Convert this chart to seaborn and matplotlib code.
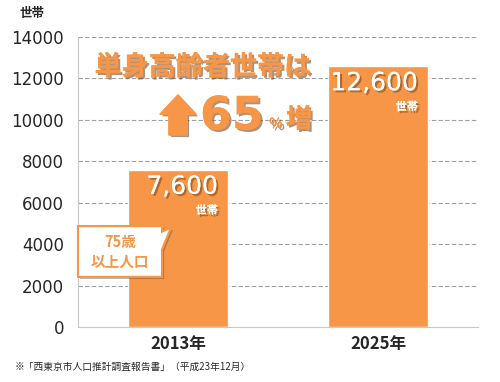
import matplotlib
matplotlib.use("Agg")
import matplotlib.pyplot as plt
import matplotlib.patheffects as pe
from matplotlib.patches import FancyArrow, Polygon
import seaborn as sns
import pandas as pd

sns.set_style("white")
plt.rcParams['font.family'] = ['Noto Sans CJK JP', 'DejaVu Sans']

# ---------------------------------------------------------
# Data
# ---------------------------------------------------------
years = ["2013年", "2025年"]
households = [7600, 12600]
value_labels = ["7,600", "12,600"]
yticks = [0, 2000, 4000, 6000, 8000, 10000, 12000, 14000]

orange = "#F79646"
df = pd.DataFrame({"year": years, "households": households})

fig = plt.figure(figsize=(5, 3.82), dpi=100)
ax = fig.add_axes([0.156, 0.144, 0.80, 0.759])

ax.set_axisbelow(True)
for y in yticks[1:]:
    ax.axhline(y, color="#a0a0a0", lw=0.8, ls=(0, (4, 2)), zorder=0)

sns.barplot(data=df, x="year", y="households", color=orange, width=0.5,
            saturation=1, ax=ax, zorder=2)

ax.set_ylim(0, 14000)
ax.set_yticks(yticks)
ax.set_yticklabels([str(v) for v in yticks], fontsize=12, family=['DejaVu Sans'])
ax.set_xlim(-0.5, 1.5)
ax.set_xlabel("")
ax.set_ylabel("")
ax.tick_params(axis="x", labelsize=12, pad=6, length=0)
ax.set_xticks([0.5, 1.5], minor=True)
ax.tick_params(axis="x", which="minor", length=4, color="#c8c8c8", direction="out")
for lbl in ax.get_xticklabels():
    lbl.set_fontweight("bold")
for s in ["top", "right"]:
    ax.spines[s].set_visible(False)
ax.spines["left"].set_color("#c8c8c8")
ax.spines["bottom"].set_color("#c8c8c8")
ax.tick_params(axis="y", length=4, color="#c8c8c8", pad=6)

shadow = [pe.withSimplePatchShadow(offset=(1.5, -1.5), shadow_rgbFace="#7a4a20", alpha=0.6), pe.Normal()]

# value labels on bars
for i, (v, t) in enumerate(zip(households, value_labels)):
    ax.text(i + 0.2, v - 250, t, ha="right", va="top", color="white",
            fontsize=18, family=['DejaVu Sans'], path_effects=shadow, zorder=5)
    ax.text(i + 0.2, v - 1650, "世帯", ha="right", va="top", color="white",
            fontsize=8, fontweight="bold", path_effects=shadow, zorder=5)

# headline
ax.text(0.125, 12550, "単身高齢者世帯は", ha="center", va="center", color=orange,
        fontsize=19.5, fontweight="bold", path_effects=shadow, zorder=5)
ax.text(0.27, 10150, "65", ha="center", va="center", color=orange,
        fontsize=33, fontweight="bold", family=['DejaVu Sans'], path_effects=shadow, zorder=5)
ax.text(0.49, 9800, "%", ha="center", va="center", color=orange,
        fontsize=10, fontweight="bold", path_effects=shadow, zorder=5)
ax.text(0.605, 10000, "増", ha="center", va="center", color=orange,
        fontsize=19, fontweight="bold", path_effects=shadow, zorder=5)
arrow = FancyArrow(0.0, 9270, 0, 1000, width=0.09, head_width=0.18, head_length=930,
                   length_includes_head=False, color=orange, zorder=5,
                   path_effects=[pe.withSimplePatchShadow(offset=(1.5, -1.5), alpha=0.5), pe.Normal()])
ax.add_patch(arrow)

# callout
call = Polygon([(-0.50, 4870), (-0.08, 4870), (-0.08, 4600), (-0.035, 4800), (-0.08, 3750),
                (-0.08, 2420), (-0.50, 2420)], closed=True, facecolor="white",
               edgecolor=orange, lw=1.5, zorder=6, clip_on=False,
               path_effects=[pe.withSimplePatchShadow(offset=(1.5, -1.5), alpha=0.4), pe.Normal()])
ax.add_patch(call)
ax.text(-0.29, 4100, "75歳", ha="center", va="center", color=orange,
        fontsize=10.5, fontweight="bold", zorder=7)
ax.text(-0.29, 3140, "以上人口", ha="center", va="center", color=orange,
        fontsize=10.5, fontweight="bold", zorder=7)

fig.text(0.065, 0.965, "世帯", ha="center", va="center", fontsize=9, fontweight="bold")
fig.text(0.03, 0.04, "※「西東京市人口推計調査報告書」（平成23年12月）", ha="left", va="center", fontsize=7)

plt.savefig("out.png", dpi=100)
